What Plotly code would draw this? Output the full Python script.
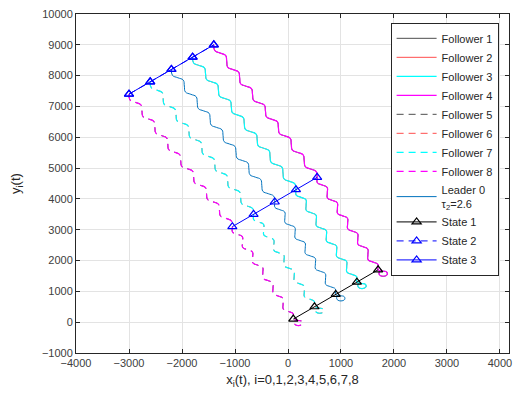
import plotly.graph_objects as go

# Leader 0 trajectory (x, y), read along the wavy path from the upper formation
# down through the middle formation to the start region with its small loop.
leader_x = [-2200, -2180, -2078, -1976, -1956, -1936, -1834, -1732, -1712, -1693,
            -1591, -1489, -1469, -1449, -1347, -1245, -1225, -1205, -1103, -1001,
            -981, -961, -859, -757, -738, -718, -616, -514, -494, -474,
            -372, -270, -250, -246, -154, -62, -58, -54, 38, 129,
            133, 137, 229, 321, 325, 329, 421, 513, 517, 521,
            613, 704, 708, 712, 804, 896, 900, 980, 1060, 1070,
            1000, 930, 920, 960]
leader_y = [8200, 8009, 7931, 7854, 7663, 7471, 7394, 7316, 7125, 6934,
            6856, 6779, 6588, 6396, 6319, 6241, 6050, 5859, 5781, 5704,
            5513, 5321, 5244, 5166, 4975, 4784, 4706, 4629, 4438, 4246,
            4169, 4091, 3900, 3724, 3650, 3576, 3400, 3224, 3150, 3076,
            2900, 2724, 2650, 2576, 2400, 2224, 2150, 2076, 1900, 1724,
            1650, 1576, 1400, 1224, 1150, 1076, 900, 860, 830, 740,
            690, 730, 820, 900]

# Formation offsets of followers 1..8 relative to the leader
follower_names = ["Follower 1", "Follower 2", "Follower 3", "Follower 4",
                  "Follower 5", "Follower 6", "Follower 7", "Follower 8"]
follower_dx = [800, 400, 400, 800, -800, -400, -400, -800]
follower_dy = [800, 400, 400, 800, -800, -400, -400, -800]
follower_colors = ["#000000", "#FF0000", "#00FFFF", "#FF00FF",
                   "#000000", "#FF0000", "#00FFFF", "#FF00FF"]
follower_dash = ["solid", "solid", "solid", "solid",
                 "7px,5px", "7px,5px", "7px,5px", "7px,5px"]
# followers 1, 2, 5, 6 share a path with 4, 3, 8, 7 and sit underneath them
follower_width = [0.7, 0.7, 1.2, 1.2, 0.7, 0.7, 1.2, 1.2]

# Formation snapshots
state1_x = [100, 500, 900, 1300, 1700]
state1_y = [100, 500, 900, 1300, 1700]
state2_x = [-3000, -2600, -2200, -1800, -1400]
state2_y = [7400, 7800, 8200, 8600, 9000]
state3_x = [-3000, -2600, -2200, -1800, -1400, None, -1050, -650, -250, 150, 550]
state3_y = [7400, 7800, 8200, 8600, 9000, None, 3100, 3500, 3900, 4300, 4700]

x_ticks = list(range(-4000, 4001, 1000))
y_ticks = list(range(-1000, 10001, 1000))

fig = go.Figure()

for name, dx, dy, col, dash, w in zip(follower_names, follower_dx, follower_dy,
                                      follower_colors, follower_dash, follower_width):
    fig.add_trace(go.Scatter(
        x=[v + dx for v in leader_x], y=[v + dy for v in leader_y],
        mode="lines", name=name,
        line=dict(color=col, width=w, dash=dash, shape="spline", smoothing=1.2)))

fig.add_trace(go.Scatter(
    x=leader_x, y=leader_y, mode="lines",
    name="Leader 0<br>\u03c4<sub>2</sub>=2.6",
    line=dict(color="#0072BD", width=1, shape="spline", smoothing=1.2)))

marker = dict(symbol="triangle-up-open", size=8, line=dict(width=1.2))
fig.add_trace(go.Scatter(
    x=state1_x, y=state1_y, mode="lines+markers", name="State 1",
    line=dict(color="#000000", width=1), marker=dict(marker, color="#000000")))
fig.add_trace(go.Scatter(
    x=state2_x, y=state2_y, mode="lines+markers", name="State 2",
    line=dict(color="#0000FF", width=1, dash="7px,5px"),
    marker=dict(marker, color="#0000FF")))
fig.add_trace(go.Scatter(
    x=state3_x, y=state3_y, mode="lines+markers", name="State 3",
    line=dict(color="#0000FF", width=1), marker=dict(marker, color="#0000FF")))

axis_common = dict(
    showgrid=True, gridcolor="#E3E3E3", gridwidth=1,
    zeroline=False, showline=True, linecolor="#262626", linewidth=1,
    mirror="ticks", ticks="inside", ticklen=4, tickcolor="#262626",
    tickfont=dict(size=11, color="#404040"), tickformat="d",
)

fig.update_layout(
    width=517, height=402,
    margin=dict(l=76, r=5, t=14, b=49),
    paper_bgcolor="white", plot_bgcolor="white",
    font=dict(family="Liberation Sans, Arial, sans-serif", color="#262626"),
    xaxis=dict(axis_common, range=[-4000, 4170], tickvals=x_ticks,
               title=dict(text="x<sub>i</sub>(t), i=0,1,2,3,4,5,6,7,8",
                          font=dict(size=13, color="#262626"), standoff=6)),
    yaxis=dict(axis_common, range=[-1000, 10000], tickvals=y_ticks,
               title=dict(text="y<sub>i</sub>(t)",
                          font=dict(size=13, color="#262626"), standoff=18)),
    legend=dict(x=0.976, y=0.974, xanchor="right", yanchor="top",
                bgcolor="white", bordercolor="#262626", borderwidth=1,
                font=dict(size=11, color="#262626"),
                itemwidth=40, tracegroupgap=0),
    showlegend=True,
)

fig.write_html("out.html")
